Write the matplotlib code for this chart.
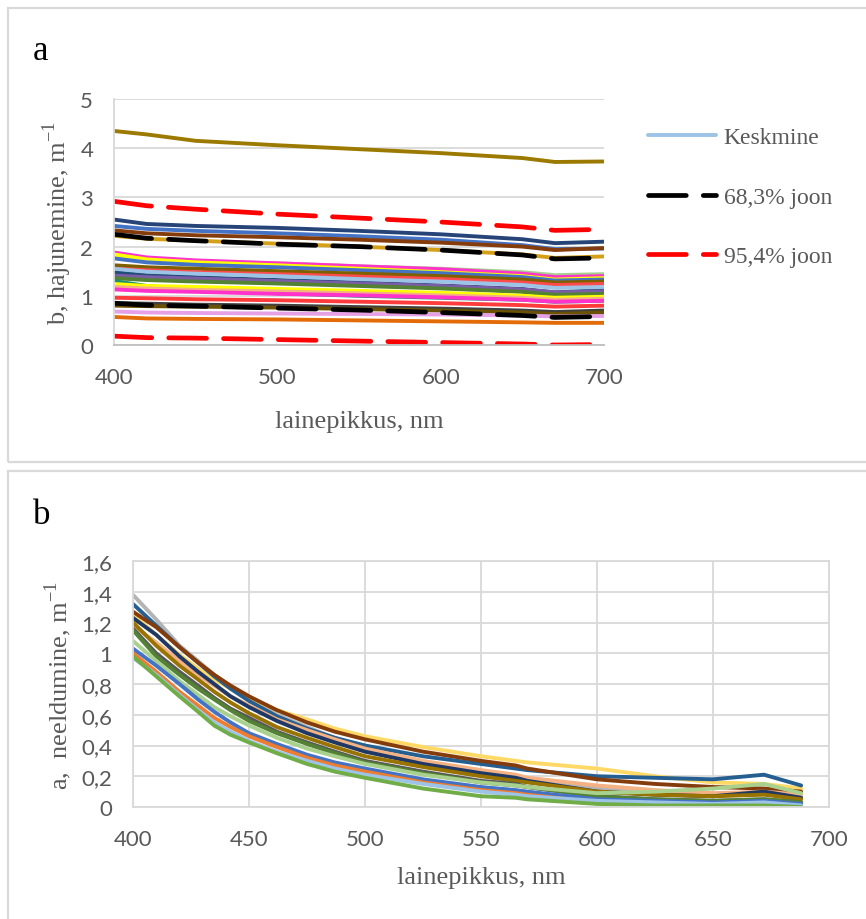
import matplotlib
matplotlib.use('Agg')
import matplotlib.pyplot as plt
from matplotlib.patches import Rectangle

# ---------------- andmed: hajumine (joonis a) ----------------
lainepikkus_a = [400, 420, 450, 500, 550, 600, 650, 670, 700]

b_vaartused = [
    [4.35, 4.28, 4.15, 4.06, 3.98, 3.90, 3.80, 3.72, 3.73],
    [2.55, 2.46, 2.42, 2.38, 2.32, 2.25, 2.15, 2.07, 2.10],
    [2.42, 2.36, 2.32, 2.27, 2.21, 2.14, 2.03, 1.95, 1.96],
    [2.33, 2.27, 2.23, 2.19, 2.14, 2.08, 2.00, 1.93, 1.97],
    [2.22, 2.16, 2.12, 2.06, 2.00, 1.93, 1.84, 1.77, 1.80],
    [1.80, 1.74, 1.70, 1.66, 1.60, 1.55, 1.48, 1.42, 1.44],
    [1.88, 1.78, 1.72, 1.66, 1.60, 1.54, 1.45, 1.38, 1.40],
    [1.84, 1.74, 1.68, 1.62, 1.55, 1.48, 1.40, 1.33, 1.36],
    [1.76, 1.68, 1.63, 1.58, 1.52, 1.46, 1.38, 1.31, 1.33],
    [1.62, 1.58, 1.55, 1.50, 1.45, 1.40, 1.33, 1.27, 1.29],
    [1.55, 1.52, 1.48, 1.44, 1.39, 1.34, 1.27, 1.22, 1.24],
    [1.48, 1.42, 1.38, 1.32, 1.27, 1.21, 1.14, 1.07, 1.12],
    [1.41, 1.38, 1.35, 1.30, 1.25, 1.20, 1.13, 1.07, 1.09],
    [1.36, 1.32, 1.29, 1.25, 1.20, 1.15, 1.08, 1.02, 1.04],
    [1.30, 1.20, 1.12, 1.05, 1.00, 0.96, 0.92, 0.88, 0.90],
    [1.24, 1.20, 1.18, 1.14, 1.10, 1.06, 1.00, 0.96, 0.98],
    [1.18, 1.15, 1.12, 1.09, 1.05, 1.01, 0.96, 0.92, 0.94],
    [1.13, 1.10, 1.08, 1.04, 1.01, 0.97, 0.92, 0.88, 0.90],
    [0.96, 0.95, 0.93, 0.91, 0.88, 0.85, 0.81, 0.78, 0.80],
    [0.85, 0.84, 0.82, 0.80, 0.77, 0.74, 0.70, 0.67, 0.70],
    [0.80, 0.79, 0.78, 0.76, 0.73, 0.70, 0.66, 0.63, 0.66],
    [0.68, 0.66, 0.65, 0.64, 0.63, 0.62, 0.60, 0.58, 0.59],
    [0.57, 0.54, 0.53, 0.52, 0.50, 0.48, 0.46, 0.45, 0.45],
]
b_varvid = ['#9C7A00', '#264478', '#4472C4', '#843C0C', '#D4A017',
            '#A9D18E', '#FF33CC', '#FFFF00', '#4472C4', '#7F6000',
            '#FF4B4B', '#1F4E79', '#7B5CA8', '#548235', '#1E8C6E',
            '#FFFF00', '#F4B183', '#FF33CC', '#FF3B3B', '#404040',
            '#6B5200', '#E6A0E6', '#E36C09']

keskmine = [1.55, 1.49, 1.45, 1.40, 1.34, 1.29, 1.22, 1.16, 1.18]
joon68_ulemine = [2.25, 2.17, 2.12, 2.05, 2.00, 1.93, 1.83, 1.75, 1.77]
joon68_alumine = [0.85, 0.81, 0.79, 0.75, 0.71, 0.66, 0.60, 0.56, 0.58]
joon95_ulemine = [2.92, 2.83, 2.76, 2.66, 2.58, 2.50, 2.40, 2.33, 2.35]
joon95_alumine = [0.18, 0.15, 0.14, 0.11, 0.08, 0.05, 0.02, 0.00, 0.01]

# ---------------- andmed: neeldumine (joonis b) ----------------
lainepikkus_b = [400, 410, 420, 428, 435, 442, 450, 462, 475, 487,
                 500, 525, 550, 565, 570, 600, 625, 650, 672, 688]

a_vaartused = [
    [1.38, 1.22, 1.05, 0.95, 0.86, 0.78, 0.70, 0.60, 0.52, 0.45, 0.38, 0.29, 0.22, 0.19, 0.18, 0.12, 0.09, 0.07, 0.09, 0.06],
    [1.25, 1.12, 0.99, 0.90, 0.83, 0.77, 0.71, 0.63, 0.57, 0.51, 0.46, 0.39, 0.33, 0.30, 0.29, 0.25, 0.20, 0.16, 0.15, 0.12],
    [1.32, 1.18, 1.04, 0.94, 0.85, 0.77, 0.69, 0.59, 0.51, 0.45, 0.40, 0.33, 0.28, 0.25, 0.24, 0.20, 0.19, 0.18, 0.21, 0.14],
    [1.27, 1.17, 1.04, 0.94, 0.86, 0.79, 0.72, 0.63, 0.55, 0.49, 0.44, 0.36, 0.30, 0.27, 0.25, 0.18, 0.15, 0.13, 0.12, 0.10],
    [1.18, 1.07, 0.95, 0.86, 0.79, 0.72, 0.66, 0.57, 0.50, 0.44, 0.38, 0.30, 0.24, 0.21, 0.19, 0.14, 0.11, 0.09, 0.10, 0.08],
    [1.23, 1.12, 0.98, 0.88, 0.80, 0.72, 0.65, 0.56, 0.48, 0.42, 0.36, 0.28, 0.22, 0.19, 0.17, 0.10, 0.08, 0.07, 0.10, 0.06],
    [1.20, 1.05, 0.92, 0.83, 0.75, 0.68, 0.61, 0.52, 0.45, 0.39, 0.33, 0.26, 0.20, 0.17, 0.16, 0.10, 0.08, 0.07, 0.08, 0.05],
    [1.16, 1.00, 0.88, 0.79, 0.71, 0.64, 0.58, 0.49, 0.42, 0.36, 0.30, 0.23, 0.17, 0.15, 0.13, 0.07, 0.05, 0.04, 0.05, 0.03],
    [1.15, 0.98, 0.86, 0.77, 0.70, 0.63, 0.56, 0.48, 0.41, 0.35, 0.29, 0.22, 0.16, 0.14, 0.13, 0.07, 0.05, 0.04, 0.05, 0.03],
    [1.08, 0.95, 0.82, 0.73, 0.65, 0.59, 0.53, 0.45, 0.38, 0.33, 0.28, 0.21, 0.16, 0.14, 0.13, 0.09, 0.10, 0.12, 0.15, 0.09],
    [1.03, 0.92, 0.80, 0.70, 0.62, 0.55, 0.48, 0.41, 0.34, 0.29, 0.25, 0.18, 0.13, 0.11, 0.10, 0.05, 0.04, 0.03, 0.04, 0.02],
    [1.00, 0.88, 0.75, 0.66, 0.58, 0.52, 0.46, 0.39, 0.32, 0.27, 0.23, 0.16, 0.11, 0.09, 0.08, 0.03, 0.02, 0.01, 0.01, 0.00],
    [0.97, 0.86, 0.73, 0.63, 0.55, 0.49, 0.43, 0.36, 0.30, 0.25, 0.21, 0.15, 0.10, 0.08, 0.07, 0.04, 0.03, 0.02, 0.03, 0.01],
    [0.98, 0.85, 0.72, 0.62, 0.53, 0.47, 0.42, 0.35, 0.28, 0.23, 0.19, 0.12, 0.07, 0.06, 0.05, 0.02, 0.01, 0.01, 0.01, 0.00],
]
a_varvid = ['#B4B4B4', '#FFD966', '#255E91', '#843C0C', '#F4B183',
            '#1F3864', '#997300', '#595959', '#548235', '#A9D18E',
            '#4472C4', '#ED7D31', '#9DC3E6', '#70AD47']

b_yticks = [0, 1, 2, 3, 4, 5]
a_yticks = [0, 0.2, 0.4, 0.6, 0.8, 1.0, 1.2, 1.4, 1.6]
a_ytick_sildid = ['0', '0,2', '0,4', '0,6', '0,8', '1', '1,2', '1,4', '1,6']
a_xticks = [400, 450, 500, 550, 600, 650, 700]
b_xticks = [400, 500, 600, 700]

GRID = '#D9D9D9'
TEKST = '#595959'
SERIF = 'Liberation Serif'
SANS = 'Lato'

W, H = 866, 920
fig = plt.figure(figsize=(W / 100, H / 100), dpi=100)
fig.patch.set_facecolor('white')

# raamid
fig.add_artist(Rectangle((8 / W, 1 - 463 / H), 1.2, (463 - 9) / H, transform=fig.transFigure,
                         fill=False, ec=GRID, lw=1.6))
fig.add_artist(Rectangle((8 / W, -0.2), 1.2, 0.2 + (H - 472) / H, transform=fig.transFigure,
                         fill=False, ec=GRID, lw=1.6))


def stiil(ax, fs=16):
    ax.tick_params(length=0, labelsize=fs, labelcolor=TEKST)
    for t in ax.get_xticklabels() + ax.get_yticklabels():
        t.set_fontfamily(SANS)
    ax.set_axisbelow(True)


# ---------- joonis a ----------
ax1 = fig.add_axes([114 / W, 1 - 346 / H, 490 / W, 246 / H])
for vals, col in zip(b_vaartused, b_varvid):
    ax1.plot(lainepikkus_a, vals, color=col, lw=2.8, solid_capstyle='butt')
l_kesk, = ax1.plot(lainepikkus_a, keskmine, color='#9DC3E6', lw=2.8, solid_capstyle='round')
l68, = ax1.plot(lainepikkus_a, joon68_ulemine, color='black', lw=3.4, dashes=(8, 3.6),
                dash_capstyle='round')
ax1.plot(lainepikkus_a, joon68_alumine, color='black', lw=3.4, dashes=(8, 3.6),
         dash_capstyle='round')
l95, = ax1.plot(lainepikkus_a, joon95_ulemine, color='#FF0000', lw=3.4, dashes=(8, 3.6),
                dash_capstyle='round')
ax1.plot(lainepikkus_a, joon95_alumine, color='#FF0000', lw=3.4, dashes=(8, 3.6),
         dash_capstyle='round')

ax1.set_xlim(400, 700)
ax1.set_ylim(0, 5)
ax1.set_xticks(b_xticks)
ax1.set_yticks(b_yticks)
ax1.grid(axis='y', color=GRID, lw=1.3)
for s in ['top', 'right']:
    ax1.spines[s].set_visible(False)
ax1.spines['left'].set_color(GRID)
ax1.spines['bottom'].set_color('#BFBFBF')
ax1.spines['left'].set_linewidth(1.3)
ax1.spines['bottom'].set_linewidth(1.3)
stiil(ax1)
ax1.tick_params(axis='x', pad=16)
ax1.tick_params(axis='y', pad=15)

ax1.set_xlabel('lainepikkus, nm', fontfamily=SERIF, fontsize=19, color=TEKST)
ax1.xaxis.set_label_coords(0.5, (346 - 422) / 246)
ax1.xaxis.label.set_va('center')
ax1.set_ylabel(r'b, hajunemine, m$^{\mathregular{-1}}$', fontfamily=SERIF, fontsize=19, color=TEKST)
ax1.yaxis.set_label_coords((57 - 114) / 490, 0.5)
ax1.yaxis.label.set_va('center')

leg = fig.legend([l_kesk, l68, l95], ['Keskmine', '68,3% joon', '95,4% joon'],
                 loc='center left', bbox_to_anchor=(648 / W, 1 - 198 / H),
                 frameon=False, borderpad=0, borderaxespad=0,
                 handlelength=2.9, handletextpad=0.3, labelspacing=1.6,
                 prop={'family': SERIF, 'size': 17})
for t in leg.get_texts():
    t.set_color(TEKST)

fig.text(40 / W, 1 - 51 / H, 'a', fontfamily=SERIF, fontsize=25, ha='center', va='center')

# ---------- joonis b ----------
ax2 = fig.add_axes([133 / W, 1 - 808 / H, 696 / W, 246 / H])
for vals, col in zip(a_vaartused, a_varvid):
    ax2.plot(lainepikkus_b, vals, color=col, lw=2.8, solid_capstyle='round', solid_joinstyle='round')

ax2.set_xlim(400, 700)
ax2.set_ylim(0, 1.6)
ax2.set_xticks(a_xticks)
ax2.set_yticks(a_yticks)
ax2.set_yticklabels(a_ytick_sildid)
ax2.grid(color=GRID, lw=1.3)
for s in ax2.spines.values():
    s.set_color(GRID)
    s.set_linewidth(1.3)
stiil(ax2)
ax2.tick_params(axis='x', pad=16)
ax2.tick_params(axis='y', pad=15)

ax2.set_xlabel('lainepikkus, nm', fontfamily=SERIF, fontsize=19, color=TEKST)
ax2.xaxis.set_label_coords(0.5, (808 - 878) / 246)
ax2.xaxis.label.set_va('center')
ax2.set_ylabel(r'a,  neeldumine, m$^{\mathregular{-1}}$', fontfamily=SERIF, fontsize=19, color=TEKST)
ax2.yaxis.set_label_coords((58 - 133) / 696, 0.5)
ax2.yaxis.label.set_va('center')

fig.text(42 / W, 1 - 515 / H, 'b', fontfamily=SERIF, fontsize=25, ha='center', va='center')

fig.savefig('out.png', dpi=100, facecolor='white')
